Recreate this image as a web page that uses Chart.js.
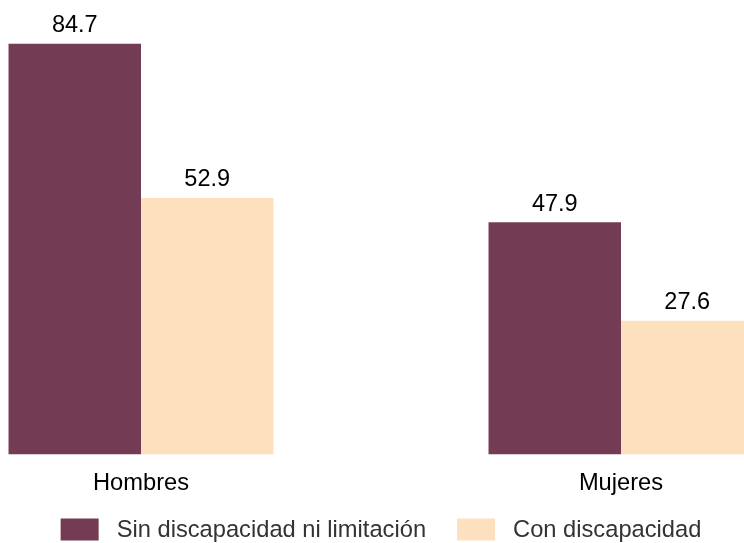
<!DOCTYPE html>
<html>
<head>
<meta charset="utf-8">
<script src="https://cdn.jsdelivr.net/npm/chart.js@4"></script>
<style>
  html, body { margin: 0; padding: 0; background: #fff; overflow: hidden; width: 744px; height: 543px; }
  #wrap { position: absolute; left: -99px; top: 0; width: 960px; height: 543px; }
</style>
</head>
<body>
<div id="wrap"><canvas id="grafic" width="960" height="543"></canvas></div>
<script>
const categorias = ["Hombres", "Mujeres"];
const sinDiscapacidad = [84.7, 47.9];
const conDiscapacidad = [52.9, 27.6];
const etiquetasSeries = ["Sin discapacidad ni limitación", "Con discapacidad"];
const colores = ["#733B54", "#FDE0BE"];

const FONT = "'Liberation Sans', Arial, sans-serif";

// etiquetas de valor encima de cada barra
const valoresPlugin = {
    id: "valores",
    afterDatasetsDraw(chart) {
        const ctx = chart.ctx;
        ctx.save();
        ctx.font = "23.5px " + FONT;
        ctx.fillStyle = "#000";
        ctx.textAlign = "center";
        ctx.textBaseline = "alphabetic";
        chart.data.datasets.forEach((ds, i) => {
            chart.getDatasetMeta(i).data.forEach((bar, j) => {
                ctx.fillText(ds.data[j].toFixed(1), bar.x, bar.y - 11.5);
            });
        });
        ctx.restore();
    }
};

// leyenda abajo, cajas de 38x22
const leyendaPlugin = {
    id: "leyenda",
    afterDraw(chart) {
        const ctx = chart.ctx;
        ctx.save();
        ctx.font = "23.7px " + FONT;
        const boxW = 38, boxH = 22, gapTxt = 18, gapItem = 31;
        const items = chart.data.datasets.map(ds => ({
            text: ds.label, color: ds.backgroundColor, w: ctx.measureText(ds.label).width
        }));
        let total = 0;
        items.forEach((it, k) => { total += boxW + gapTxt + it.w + (k < items.length - 1 ? gapItem : 0); });
        let x = chart.width / 2 - total / 2;
        const yBox = 518.5;
        ctx.textBaseline = "middle";
        ctx.textAlign = "left";
        items.forEach(it => {
            ctx.fillStyle = it.color;
            ctx.fillRect(x, yBox, boxW, boxH);
            ctx.fillStyle = "#333";
            ctx.fillText(it.text, x + boxW + gapTxt, yBox + boxH / 2 + 1);
            x += boxW + gapTxt + it.w + gapItem;
        });
        ctx.restore();
    }
};

new Chart(document.getElementById("grafic"), {
    type: "bar",
    data: {
        labels: categorias,
        datasets: [
            { label: etiquetasSeries[0], data: sinDiscapacidad, backgroundColor: colores[0] },
            { label: etiquetasSeries[1], data: conDiscapacidad, backgroundColor: colores[1] }
        ]
    },
    options: {
        responsive: false,
        devicePixelRatio: 1,
        animation: false,
        layout: { padding: { top: 18, bottom: 30, left: 0, right: 0 } },
        datasets: { bar: { categoryPercentage: 0.552, barPercentage: 1, borderWidth: 0 } },
        plugins: { legend: { display: false }, tooltip: { enabled: false } },
        scales: {
            x: {
                grid: { display: false, drawTicks: false },
                border: { display: false },
                ticks: { color: "#000", padding: 15, font: { family: FONT, size: 23.7 } }
            },
            y: { display: false, min: 0, max: 90 }
        }
    },
    plugins: [valoresPlugin, leyendaPlugin]
});
</script>
</body>
</html>
